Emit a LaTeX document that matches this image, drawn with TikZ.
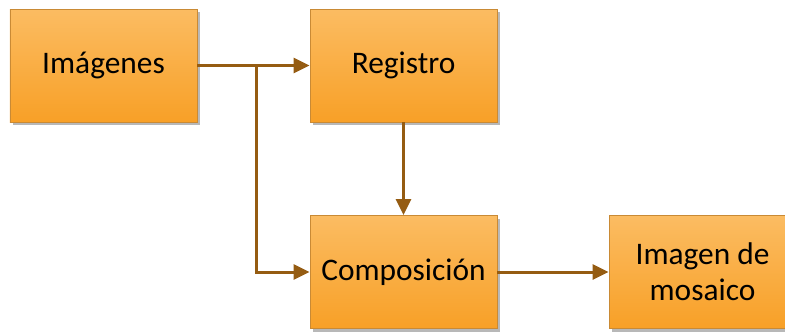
\documentclass[tikz,border=0pt]{standalone}
\usepackage{fontspec}
\setmainfont{Carlito}
\usetikzlibrary{arrows.meta,shadows}
\definecolor{boxtop}{HTML}{FBBC62}
\definecolor{boxbot}{HTML}{F8A027}
\definecolor{boxline}{HTML}{C98A35}
\definecolor{flow}{HTML}{955C12}
\begin{document}
\begin{tikzpicture}[x=1bp,y=-1bp,
  block/.style={draw=boxline, line width=0.8bp, top color=boxtop, bottom color=boxbot,
    minimum width=187bp, minimum height=113bp, inner sep=0pt, align=center,
    font=\fontsize{31.5}{36}\selectfont,
    drop shadow={shadow xshift=3bp, shadow yshift=-3bp, fill=black!35, opacity=0.8}},
  link/.style={draw=flow, line width=3bp, -{Triangle[length=16bp,width=15bp]}}]
\useasboundingbox (0,0) rectangle (785,332);
\clip (0,0) rectangle (785,332);
\node[block] (img) at (103.5,65.5) {Imágenes};
\node[block] (reg) at (403.5,65.5) {Registro};
\node[block] (comp) at (403.5,272) {Composición};
\node[block] (mos) at (702.5,272) {Imagen de\\mosaico};
\coordinate (split) at (256,0 |- img.east);
\draw[link] (img.east) -- (reg.west);
\draw[link] (split) |- (comp.west);
\draw[link] (reg.south) -- (comp.north);
\draw[link] (comp.east) -- (mos.west);
\end{tikzpicture}
\end{document}
